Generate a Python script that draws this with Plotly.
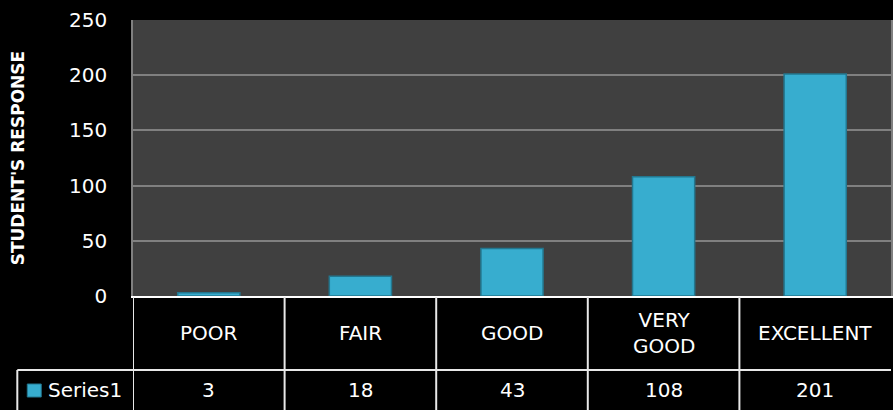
import plotly.graph_objects as go

categories = ["POOR", "FAIR", "GOOD", "VERY<br>GOOD", "EXCELLENT"]
values = [3, 18, 43, 108, 201]
series_name = "Series1"
y_title = "STUDENT'S RESPONSE"
y_ticks = [0, 50, 100, 150, 200, 250]

W, H = 893, 410
L, R, T, B = 133, 0, 20, 114
plot_h = H - T - B

def py(pix):
    return (H - B - pix) / plot_h

def px(pix):
    return (pix - L) / (W - L - R)

FONT = "DejaVu Sans"
xs = list(range(len(categories)))

fig = go.Figure()
fig.add_trace(go.Bar(
    x=xs, y=values, width=0.41,
    marker=dict(color="#37ADCF", line=dict(color="#23778F", width=1.5)),
    showlegend=False,
))

shapes = []
line_style = dict(color="#E8E8E8", width=2)
for i in range(len(categories)):
    shapes.append(dict(type="line", xref="x", yref="paper", x0=i - 0.5, x1=i - 0.5,
                       y0=py(297), y1=py(412), line=line_style))
shapes.append(dict(type="line", xref="paper", yref="paper", x0=px(17), x1=px(17),
                   y0=py(370), y1=py(412), line=line_style))
shapes.append(dict(type="line", xref="paper", yref="paper", x0=px(17), x1=1.0,
                   y0=py(370), y1=py(370), line=line_style))
shapes.append(dict(type="rect", xref="paper", yref="paper", x0=px(27), x1=px(41),
                   y0=py(397), y1=py(384), fillcolor="#37ADCF",
                   line=dict(color="#23778F", width=1)))

annotations = []
for i, (c, v) in enumerate(zip(categories, values)):
    annotations.append(dict(x=i, y=py(333), xref="x", yref="paper", text=c,
                            xanchor="center", yanchor="middle",
                            showarrow=False, font=dict(color="white", size=20, family=FONT)))
    annotations.append(dict(x=i, y=py(390), xref="x", yref="paper", text=str(v),
                            xanchor="center", yanchor="middle",
                            showarrow=False, font=dict(color="white", size=20, family=FONT)))
annotations.append(dict(x=px(46), y=py(390), xref="paper", yref="paper", text=series_name,
                        xanchor="left", yanchor="middle", showarrow=False,
                        font=dict(color="white", size=20, family=FONT)))
annotations.append(dict(x=px(18), y=py(158), xref="paper", yref="paper", text="<b>" + y_title + "</b>",
                        textangle=-90, showarrow=False, xanchor="center", yanchor="middle",
                        font=dict(color="white", size=17, family=FONT)))

fig.update_layout(
    width=W, height=H,
    margin=dict(l=L, r=R, t=T, b=B),
    paper_bgcolor="black", plot_bgcolor="#404040",
    shapes=shapes, annotations=annotations,
    xaxis=dict(range=[-0.5, len(categories) - 0.5], showticklabels=False, showgrid=False,
               zeroline=False, showline=True, linecolor="white", linewidth=2, ticks=""),
    yaxis=dict(range=[0, 250], tickvals=y_ticks, showgrid=True, gridcolor="#808080", gridwidth=1.5,
               zeroline=False, showline=True, linecolor="#808080", linewidth=1.5, mirror=True,
               tickfont=dict(color="white", size=20, family=FONT), ticklabelstandoff=20),
    bargap=0.59,
)
fig.write_html("out.html", config={"displayModeBar": False},
               post_script="document.body.style.margin='0';document.body.style.background='black';")
